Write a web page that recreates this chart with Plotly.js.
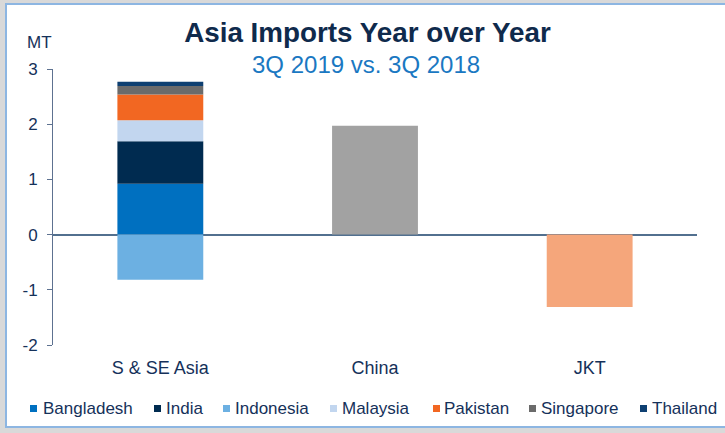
<!DOCTYPE html>
<html>
<head>
<meta charset="utf-8">
<script src="https://cdn.plot.ly/plotly-3.0.1.min.js"></script>
<style>
  html, body { margin: 0; padding: 0; width: 725px; height: 433px; background: #D9D9D9; overflow: hidden; }
  #frame { position: absolute; left: 5px; top: 3px; width: 720px; height: 425px; background: #FFFFFF;
           border-left: 2px solid #8DB6E2; border-top: 2px solid #8DB6E2; border-bottom: 2px solid #8DB6E2; box-sizing: border-box; }
  #chart { position: absolute; left: 0; top: 0; width: 725px; height: 433px; }
</style>
</head>
<body>
<div id="frame"></div>
<div id="chart"></div>
<script>
// ---- data ----
const categories = ["S & SE Asia", "China", "JKT"];
const countries = ["Bangladesh", "India", "Indonesia", "Malaysia", "Pakistan", "Singapore", "Thailand"];
const countryValues = [0.92, 0.77, -0.82, 0.38, 0.47, 0.15, 0.08];   // S & SE Asia stack, MT
const countryColors = ["#0070C0", "#002B50", "#6CB0E2", "#C2D6EF", "#F26722", "#6B6B6B", "#0E4072"];
const chinaValue = 1.97;
const jktValue = -1.31;
const yTicks = [-2, -1, 0, 1, 2, 3];
const titleText = "Asia Imports Year over Year";
const subtitleText = "3Q 2019 vs. 3Q 2018";
const unitText = "MT";

// ---- layout constants (pixels) ----
const W = 725, H = 433;
const M = { l: 53, r: 28, t: 69, b: 88 };
const PW = W - M.l - M.r, PH = H - M.t - M.b;
const px2x = px => (px - M.l) / PW;
const py2y = py => (H - M.b - py) / PH;

const navy = "#15315A";
const sans = "'Liberation Sans', Arial, sans-serif";

const traces = [];
countries.forEach((c, i) => {
  traces.push({
    type: "bar", name: c, x: [categories[0]], y: [countryValues[i]],
    marker: { color: countryColors[i], line: { width: 0 } },
    showlegend: false, hoverinfo: "name+y"
  });
});
traces.push({ type: "bar", name: "China", x: [categories[1]], y: [chinaValue],
  marker: { color: "#A2A2A2", line: { width: 0 } }, showlegend: false });
traces.push({ type: "bar", name: "JKT", x: [categories[2]], y: [jktValue],
  marker: { color: "#F5A67B", line: { width: 0 } }, showlegend: false });

// legend (drawn as annotations + small squares)
const legendText = [41, 164, 233, 340, 442, 539, 650];
const legendKey = [30, 154, 223, 330, 433, 529, 640];
const legendY = 408.5;
const annotations = countries.map((c, i) => ({
  xref: "paper", yref: "paper", x: px2x(legendText[i]), y: py2y(legendY),
  xanchor: "left", yanchor: "middle", align: "left", showarrow: false, text: c,
  font: { family: sans, size: 17, color: navy }
}));
annotations.push({
  xref: "paper", yref: "paper", x: px2x(25), y: py2y(42), xanchor: "left", yanchor: "middle",
  showarrow: false, text: unitText, font: { family: sans, size: 17, color: navy }
});
annotations.push({
  xref: "paper", yref: "paper", x: px2x(366), y: py2y(64.5), xanchor: "center", yanchor: "middle",
  showarrow: false, text: subtitleText, font: { family: sans, size: 24, color: "#1A78C2" }
});
const shapes = countries.map((c, i) => ({
  type: "rect", xref: "paper", yref: "paper",
  x0: px2x(legendKey[i]), x1: px2x(legendKey[i] + 7),
  y0: py2y(legendY + 3.5), y1: py2y(legendY - 3.5),
  fillcolor: countryColors[i], line: { width: 0 }
}));

const layout = {
  width: W, height: H,
  margin: M,
  paper_bgcolor: "rgba(0,0,0,0)", plot_bgcolor: "rgba(0,0,0,0)",
  barmode: "relative", bargap: 0.6,
  showlegend: false,
  title: {
    text: "<b>" + titleText + "</b>",
    font: { family: sans, size: 27.8, color: "#0F2A4C" },
    x: 367.5 / W, xanchor: "center", xref: "container",
    y: 1 - 32 / H, yanchor: "middle", yref: "container"
  },
  xaxis: {
    type: "category", categoryorder: "array", categoryarray: categories,
    showline: false, ticks: "", showgrid: false, zeroline: false,
    ticklabelstandoff: 10,
    tickfont: { family: sans, size: 18, color: navy }
  },
  yaxis: {
    range: [-2, 3], tickvals: yTicks, ticktext: yTicks.map(String),
    showgrid: false, showline: true, linecolor: "#5D7190", linewidth: 1,
    ticks: "outside", ticklen: 5, tickcolor: "#5D7190", tickwidth: 1,
    ticklabelstandoff: 6,
    zeroline: true, zerolinecolor: "#52708F", zerolinewidth: 2,
    tickfont: { family: sans, size: 17, color: navy }
  },
  annotations: annotations,
  shapes: shapes
};

Plotly.newPlot("chart", traces, layout, { displayModeBar: false, staticPlot: true });
</script>
</body>
</html>
